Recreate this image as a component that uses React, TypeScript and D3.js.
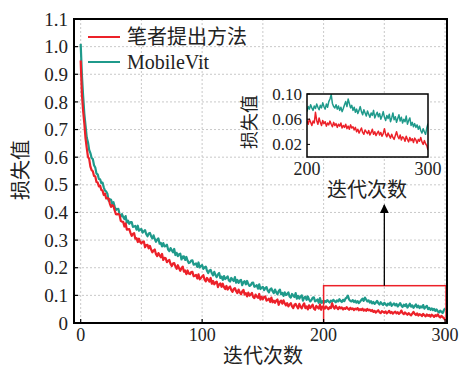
import React from 'react';
import { scaleLinear, line, range } from 'd3';

// loss values x1000, one per iteration 0..300
const oursLoss = [
  950, 828, 768, 722, 668, 633, 601, 594, 566, 553,
  549, 532, 531, 510, 508, 494, 497, 481, 479, 463,
  468, 451, 452, 450, 432, 420, 426, 423, 407, 394,
  393, 395, 391, 370, 367, 366, 349, 360, 338, 339,
  340, 326, 315, 322, 325, 305, 307, 293, 305, 293,
  288, 294, 295, 274, 282, 283, 270, 279, 266, 256,
  262, 266, 249, 242, 253, 245, 238, 250, 228, 236,
  234, 220, 225, 228, 214, 206, 215, 217, 205, 196,
  209, 198, 189, 199, 204, 186, 190, 177, 190, 179,
  177, 184, 185, 169, 171, 174, 161, 176, 158, 163,
  168, 173, 157, 151, 163, 156, 150, 163, 142, 152,
  140, 147, 150, 130, 140, 143, 131, 142, 130, 123,
  134, 121, 128, 132, 119, 113, 123, 126, 115, 108,
  121, 111, 104, 114, 120, 103, 108, 96, 110, 99,
  103, 109, 94, 90, 103, 96, 91, 105, 85, 95,
  86, 94, 96, 81, 84, 88, 76, 92, 75, 81,
  73, 81, 85, 66, 77, 81, 70, 82, 71, 64,
  72, 60, 67, 72, 60, 54, 66, 69, 60, 53,
  69, 59, 53, 64, 71, 54, 60, 49, 64, 54,
  60, 66, 52, 48, 62, 57, 52, 67, 48, 59,
  58, 52, 60, 55, 50, 57, 54, 71, 58, 52,
  62, 55, 50, 58, 53, 56, 49, 54, 51, 57,
  52, 48, 55, 50, 53, 47, 52, 49, 54, 46,
  50, 47, 52, 45, 49, 44, 51, 46, 48, 43,
  47, 40, 44, 38, 42, 46, 39, 36, 43, 40,
  37, 42, 35, 39, 44, 36, 40, 34, 38, 41,
  35, 39, 33, 37, 45, 36, 32, 38, 34, 30,
  36, 31, 28, 34, 40, 33, 29, 35, 27, 32,
  30, 25, 33, 28, 24, 31, 26, 29, 23, 30,
  27, 22, 28, 25, 31, 24, 20, 26, 21, 18,
  11,
];

const mobileVitLoss = [
  1010, 898, 823, 757, 714, 671, 654, 626, 615, 597,
  593, 571, 563, 541, 538, 521, 520, 506, 508, 491,
  479, 476, 468, 443, 448, 446, 430, 437, 421, 409,
  412, 413, 394, 385, 394, 384, 376, 387, 363, 370,
  359, 365, 365, 348, 349, 351, 338, 352, 334, 338,
  340, 327, 332, 336, 321, 314, 324, 326, 314, 306,
  317, 304, 294, 302, 306, 287, 290, 277, 289, 277,
  279, 283, 266, 260, 271, 263, 256, 268, 246, 254,
  242, 249, 251, 230, 240, 241, 228, 239, 226, 217,
  219, 226, 227, 211, 213, 216, 203, 219, 201, 206,
  210, 196, 201, 204, 189, 181, 190, 192, 180, 172,
  185, 174, 166, 176, 181, 163, 168, 156, 170, 159,
  163, 169, 154, 150, 163, 157, 152, 166, 146, 156,
  145, 153, 156, 137, 148, 151, 140, 152, 141, 134,
  137, 145, 146, 131, 133, 137, 124, 140, 123, 128,
  131, 119, 126, 130, 117, 111, 122, 125, 115, 108,
  121, 111, 104, 115, 121, 104, 109, 98, 111, 101,
  105, 111, 96, 92, 105, 99, 94, 108, 88, 98,
  88, 96, 100, 81, 92, 95, 84, 96, 85, 78,
  83, 91, 93, 78, 81, 85, 73, 90, 73, 79,
  72, 80, 76, 83, 78, 74, 81, 77, 84, 79,
  75, 82, 78, 86, 80, 76, 84, 79, 88, 92,
  99, 85, 80, 78, 83, 76, 81, 74, 79, 72,
  77, 83, 88, 80, 92, 85, 78, 82, 74, 79,
  71, 76, 69, 74, 80, 72, 67, 75, 70, 65,
  73, 68, 63, 70, 66, 74, 62, 67, 71, 64,
  69, 60, 65, 72, 63, 58, 66, 61, 68, 56,
  62, 70, 59, 64, 55, 61, 67, 57, 63, 54,
  60, 56, 65, 52, 58, 62, 50, 55, 48, 53,
  47, 51, 44, 49, 42, 38, 45, 40, 36, 46,
  53,
];

const seriesNames = ['笔者提出方法', 'MobileVit'];
const yTicks = [0, 0.1, 0.2, 0.3, 0.4, 0.5, 0.6, 0.7, 0.8, 0.9, 1.0, 1.1];
const xTicks = [0, 100, 200, 300];
const xGrid = [0, 50, 100, 150, 200, 250, 300];
const insetYTicks = [0.02, 0.06, 0.1];
const insetXTicks = [200, 300];
const zoomBox = { x0: 200, x1: 300, y0: 0, y1: 0.135 };

const RED = '#ec2129';
const TEAL = '#1f9a8b';
const FONT = '"Liberation Serif", "Noto Sans CJK SC", serif';

type Pt = { it: number; v: number };

export default function App() {
  const W = 461;
  const H = 370;
  const left = 74, right = 447, top = 19, bottom = 323;

  const x = scaleLinear().domain([-5.5, 301.6]).range([left, right]);
  const y = scaleLinear().domain([0, 1.1]).range([bottom, top]);

  const iters = range(oursLoss.length);
  const ours: Pt[] = iters.map(i => ({ it: i, v: oursLoss[i] / 1000 }));
  const mv: Pt[] = iters.map(i => ({ it: i, v: mobileVitLoss[i] / 1000 }));

  const mainLine = line<Pt>().x(d => x(d.it)).y(d => y(d.v));

  // inset
  const ix = scaleLinear().domain([200, 300]).range([307, 428]);
  const iy = scaleLinear().domain([0, 0.1]).range([157, 94]);
  const insetLine = line<Pt>().x(d => ix(d.it)).y(d => iy(d.v));
  const oursIn = ours.filter(d => d.it >= 200);
  const mvIn = mv.filter(d => d.it >= 200);

  const arrowX = x(250);

  return (
    <svg width={W} height={H} style={{ position: 'absolute', left: 0, top: 0, background: '#fff' }}
      fontFamily={FONT}>
      <defs>
        <clipPath id="mainClip">
          <rect x={left} y={top} width={right - left} height={bottom - top} />
        </clipPath>
        <clipPath id="insetClip">
          <rect x={ix(200)} y={iy(0.1)} width={ix(300) - ix(200)} height={iy(0) - iy(0.1)} />
        </clipPath>
        <marker id="arrowHead" viewBox="0 0 10 10" refX="9" refY="5" markerWidth="7" markerHeight="7" orient="auto">
          <path d="M0,0 L10,5 L0,10 z" fill="#000" />
        </marker>
      </defs>

      {/* grid */}
      {yTicks.slice(1, -1).map(t => (
        <line key={'gy' + t} x1={left} x2={right} y1={y(t)} y2={y(t)}
          stroke="#bbb" strokeWidth={0.8} strokeDasharray="2,2" />
      ))}
      {xGrid.map(t => (
        <line key={'gx' + t} x1={x(t)} x2={x(t)} y1={top} y2={bottom}
          stroke="#bbb" strokeWidth={0.8} strokeDasharray="2,2" />
      ))}

      {/* curves */}
      <g clipPath="url(#mainClip)">
        <path d={mainLine(mv) || ''} fill="none" stroke={TEAL} strokeWidth={2.2} strokeLinejoin="round" />
        <path d={mainLine(ours) || ''} fill="none" stroke={RED} strokeWidth={2.2} strokeLinejoin="round" />
      </g>

      {/* zoom box + arrow */}
      <rect x={x(zoomBox.x0)} y={y(zoomBox.y1)} width={x(zoomBox.x1) - x(zoomBox.x0) + 1}
        height={y(zoomBox.y0) - y(zoomBox.y1)} fill="none" stroke={RED} strokeWidth={1.5} />
      <line x1={arrowX} x2={arrowX} y1={y(zoomBox.y1)} y2={205} stroke="#000" strokeWidth={1.3}
        markerEnd="url(#arrowHead)" />

      {/* frame */}
      <rect x={left} y={top} width={right - left} height={bottom - top} fill="none" stroke="#000" strokeWidth={2} />

      {/* y ticks */}
      {yTicks.map(t => (
        <g key={'yt' + t}>
          <line x1={left} x2={left + 4} y1={y(t)} y2={y(t)} stroke="#000" strokeWidth={1.2} />
          <text x={68} y={y(t)} dy="0.35em" textAnchor="end" fontSize={19} fill="#222">
            {t === 0 ? '0' : t.toFixed(1)}
          </text>
        </g>
      ))}
      {/* x ticks */}
      {xTicks.map(t => (
        <g key={'xt' + t}>
          <line x1={x(t)} x2={x(t)} y1={bottom} y2={bottom - 4} stroke="#000" strokeWidth={1.2} />
          <text x={x(t)} y={341} textAnchor="middle" fontSize={18} fill="#222">{t}</text>
        </g>
      ))}

      {/* axis titles */}
      <text x={263} y={363} textAnchor="middle" fontSize={20} fill="#222">迭代次数</text>
      <text transform="translate(28,170) rotate(-90)" textAnchor="middle" fontSize={20} fill="#222">损失值</text>

      {/* legend */}
      <line x1={88} x2={120} y1={37} y2={37} stroke={RED} strokeWidth={2} />
      <text x={127} y={44} fontSize={20} fill="#222">{seriesNames[0]}</text>
      <line x1={88} x2={120} y1={62} y2={62} stroke={TEAL} strokeWidth={2} />
      <text x={127} y={69} fontSize={20} fill="#222">{seriesNames[1]}</text>

      {/* inset */}
      <rect x={ix(200)} y={iy(0.1)} width={ix(300) - ix(200)} height={iy(0) - iy(0.1)} fill="#fff" />
      <g clipPath="url(#insetClip)">
        <path d={insetLine(mvIn) || ''} fill="none" stroke={TEAL} strokeWidth={1.5} strokeLinejoin="round" />
        <path d={insetLine(oursIn) || ''} fill="none" stroke={RED} strokeWidth={1.5} strokeLinejoin="round" />
      </g>
      <rect x={ix(200)} y={iy(0.1)} width={ix(300) - ix(200)} height={iy(0) - iy(0.1)} fill="none"
        stroke="#000" strokeWidth={1.5} />
      {insetYTicks.map(t => (
        <g key={'iy' + t}>
          <line x1={ix(200)} x2={ix(200) + 3} y1={iy(t)} y2={iy(t)} stroke="#000" strokeWidth={1} />
          <text x={302} y={iy(t)} dy="0.35em" textAnchor="end" fontSize={17} fill="#222">{t.toFixed(2)}</text>
        </g>
      ))}
      {insetXTicks.map(t => (
        <text key={'ix' + t} x={ix(t)} y={175} textAnchor="middle" fontSize={18} fill="#222">{t}</text>
      ))}
      <text x={367} y={197} textAnchor="middle" fontSize={20} fill="#222">迭代次数</text>
      <text transform="translate(256,122) rotate(-90)" textAnchor="middle" fontSize={18} fill="#222">损失值</text>
    </svg>
  );
}
